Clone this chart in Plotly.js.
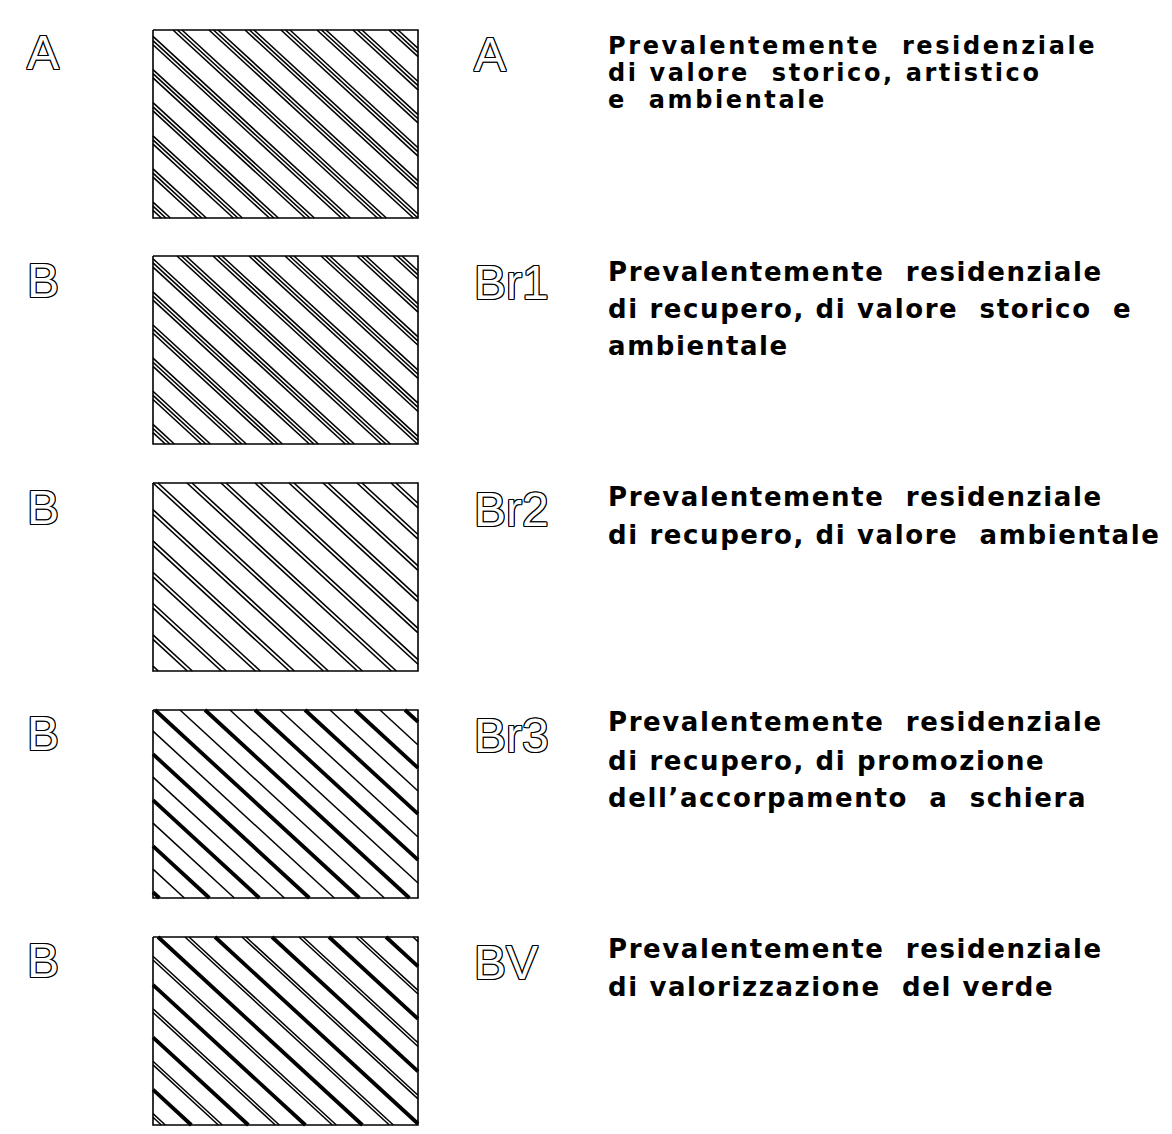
<!DOCTYPE html>
<html><head><meta charset="utf-8">
<script src="https://cdn.plot.ly/plotly-3.0.1.min.js"></script>
<style>
body{margin:0;background:#fff}
text[style*="DejaVu"]{letter-spacing:1.6px}
text[style*="Verdana"]{letter-spacing:2.6px}
</style>
</head><body><div id="chart" style="width:1172px;height:1134px"></div>
<script>
// ---- data ----
const zoneLetters = ["A", "B", "B", "B", "B"];
const zoneCodes = ["A", "Br1", "Br2", "Br3", "BV"];
const zoneDescriptions = [
  ["Prevalentemente  residenziale", "di valore  storico, artistico", "e  ambientale"],
  ["Prevalentemente  residenziale", "di recupero, di valore  storico  e", "ambientale"],
  ["Prevalentemente  residenziale", "di recupero, di valore  ambientale"],
  ["Prevalentemente  residenziale", "di recupero, di promozione", "dell\u2019accorpamento  a  schiera"],
  ["Prevalentemente  residenziale", "di valorizzazione  del verde"]
];
// hatch patterns: period (px along top edge), phase, line offsets in group, line widths
const hatchPeriod = [36, 36, 34, 50, 57];
const hatchPhase = [173, 177, 153, 155, 158];
const hatchOffsets = [[0, 4.5, 9], [0, 4.5, 9], [0, 5], [0, 25], [0, 27, 31]];
const hatchWidths = [[1.6, 1.6, 1.6], [1.6, 1.6, 1.6], [1.6, 1.6], [3.8, 1.5], [3.8, 1.5, 1.5]];

// ---- layout constants ----
const W = 1172, H = 1134;
const rectX0 = 153, rectX1 = 418;
const rectTop = [30, 256, 483, 710, 937];
const rectH = 188;
const slope = 0.92;
const letterY = [52, 280, 507, 733, 960];
const descLineY = [[46, 73, 100], [272, 309, 346], [497, 535], [722, 761, 798], [949, 987]];
const descSize = [24, 26, 26, 26, 26];
const descFamily = ["'DejaVu Sans', Verdana", "DejaVu Sans", "DejaVu Sans", "DejaVu Sans", "DejaVu Sans"];

const traces = [];
const annotations = [];
const hollow = "-1px -1px 0 #000, 1px -1px 0 #000, -1px 1px 0 #000, 1px 1px 0 #000, 0 1px 0 #000, 0 -1px 0 #000, 1px 0 0 #000, -1px 0 0 #000";

zoneCodes.forEach((code, i) => {
  const y0 = rectTop[i], y1 = y0 + rectH;
  const byWidth = {};
  const P = hatchPeriod[i];
  let start = hatchPhase[i];
  while (start > rectX0 - rectH / slope - P) start -= P;
  for (let c = start; c < rectX1 + P; c += P) {
    hatchOffsets[i].forEach((off, k) => {
      const cx = c + off;
      const tmin = Math.max(rectX0 - cx, 0);
      const tmax = Math.min(rectX1 - cx, (y1 - y0) / slope);
      if (tmax > tmin) {
        const w = hatchWidths[i][k];
        if (!byWidth[w]) byWidth[w] = {x: [], y: []};
        byWidth[w].x.push(cx + tmin, cx + tmax, null);
        byWidth[w].y.push(y0 + slope * tmin, y0 + slope * tmax, null);
      }
    });
  }
  Object.keys(byWidth).forEach(w => {
    traces.push({type: "scatter", mode: "lines", x: byWidth[w].x, y: byWidth[w].y,
      line: {color: "#000", width: +w}, hoverinfo: "skip", showlegend: false});
  });
  traces.push({type: "scatter", mode: "lines",
    x: [rectX0, rectX1, rectX1, rectX0, rectX0], y: [y0, y0, y1, y1, y0],
    line: {color: "#000", width: 1.6}, hoverinfo: "skip", showlegend: false});

  annotations.push({x: 43, y: letterY[i], text: zoneLetters[i], showarrow: false,
    xanchor: "center", yanchor: "middle",
    font: {family: "Liberation Sans", size: 48, color: "#fff", shadow: hollow}});
  annotations.push({x: 472, y: letterY[i] + 2, text: code, showarrow: false,
    xanchor: "left", yanchor: "middle",
    font: {family: "Liberation Sans", size: 48, color: "#fff", shadow: hollow}});
  zoneDescriptions[i].forEach((line, j) => {
    annotations.push({x: 606, y: descLineY[i][j], text: line, showarrow: false,
      xanchor: "left", yanchor: "middle",
      font: {family: descFamily[i], size: descSize[i], color: "#000", weight: "bold"}});
  });
});

const layout = {
  width: W, height: H,
  margin: {l: 0, r: 0, t: 0, b: 0},
  paper_bgcolor: "#fff", plot_bgcolor: "#fff",
  xaxis: {range: [0, W], visible: false, fixedrange: true},
  yaxis: {range: [H, 0], visible: false, fixedrange: true},
  annotations: annotations,
  showlegend: false
};
Plotly.newPlot("chart", traces, layout, {staticPlot: true});
</script></body></html>
